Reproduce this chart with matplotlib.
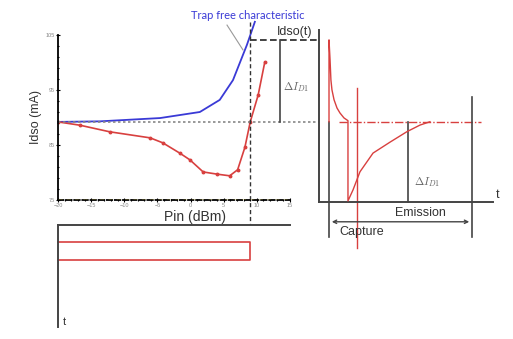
import matplotlib
matplotlib.use('Agg')
import matplotlib.pyplot as plt

plt.rcParams['font.family'] = ['Liberation Sans', 'DejaVu Sans']
plt.rcParams['mathtext.fontset'] = 'cm'

# static characteristic Idso vs Pin
pin_trap_free = [-20, -13.7, -4.6, 1.4, 4.4, 6.4, 8.5, 9.7]
idso_trap_free = [89.2, 89.3, 89.9, 91.0, 93.2, 96.8, 103.2, 107.4]

pin_measured = [-20, -16.7, -12.2, -6.1, -4.2, -1.6, -0.1, 1.9, 4.0, 5.9, 7.1, 8.2, 9.0, 10.2, 11.2]
idso_measured = [89.2, 88.6, 87.4, 86.3, 85.4, 83.5, 82.3, 80.1, 79.7, 79.4, 80.5, 84.6, 89.2, 94.1, 100.1]

x_ticks = [-20, -15, -10, -5, 0, 5, 10, 15]
y_ticks = [75, 85, 95, 105]

idso_rest = 89.2
idso_peak = 104.1
pin_pulse = 9

# transient Idso(t)
t_transient = [0, 0, 0.06, 0.11, 0.17, 0.29, 0.46, 0.63, 0.86, 1.09,
               1.09, 1.38, 1.78, 2.53, 3.51, 4.48, 5.23, 5.80]
idso_transient = [89.2, 104.1, 100.5, 96.8, 95.0, 93.2, 91.7, 90.8, 89.9, 89.4,
                  74.8, 76.8, 80.1, 83.5, 85.5, 87.4, 88.6, 89.2]

t_rest_line = [0.6, 8.74]
t_capture_end = 1.61
t_emission_mark = 4.54
t_emission_end = 8.22

# Pin(t) pulse
t_pulse_on = 1.67
t_pulse_off = 3.43

red = '#d8403f'
blue = '#3a3ad6'
dark = '#444444'

W, H = 513, 339
fig = plt.figure(figsize=(W / 100, H / 100), dpi=100)


def box(left, top, right, bottom):
    return [left / W, 1 - bottom / H, (right - left) / W, (bottom - top) / H]


# main plot
ax = fig.add_axes(box(58, 35, 290, 200))
ax.plot(pin_trap_free, idso_trap_free, color=blue, lw=1.3, clip_on=False)
ax.plot(pin_measured, idso_measured, color=red, lw=1.2, marker='o', ms=1.8)
ax.set_xlim(-20, 15)
ax.set_ylim(75, 105)
ax.set_xticks(x_ticks)
ax.set_yticks(y_ticks)
ax.minorticks_on()
ax.tick_params(which='both', direction='inout', length=3, width=0.8, labelsize=4,
               labelcolor='#888888', pad=1)
ax.tick_params(which='minor', length=2)
for s in ['top', 'right']:
    ax.spines[s].set_visible(False)
ax.spines['left'].set_linewidth(1.3)
ax.spines['bottom'].set_linewidth(1.3)
ax.spines['bottom'].set_linestyle((0, (3, 1.5)))
ax.axhline(75, color='#e6d84a', lw=1.0, ls=(0, (3, 3)), zorder=3)
ax.set_xlabel('Pin (dBm)', fontsize=10, color='#333333', labelpad=1)
ax.xaxis.set_label_coords(0.59, -0.06)
ax.set_ylabel('Idso (mA)', fontsize=9, color='#333333', labelpad=2)

# rest level, peak level, pulse power
ax.plot([-20, 20.9], [idso_rest, idso_rest], color='#888888', lw=1.2, ls=(0, (1.5, 1.5)), clip_on=False)
ax.plot([pin_pulse, 31.1], [idso_peak, idso_peak], color='#222222', lw=1.2, ls=(0, (4, 2)), clip_on=False)
ax.plot([pin_pulse, pin_pulse], [107.4, 63.2], color='#333333', lw=1.0, ls=(0, (3, 2)), clip_on=False)
ax.plot([13.5, 13.5], [idso_rest, idso_peak], color=dark, lw=1.2, clip_on=False)
ax.text(13.9, 95.5, r'$\Delta I_{D1}$', fontsize=8, color='#666666', va='center', clip_on=False)

ax.text(8.6, 108.6, 'Trap free characteristic', fontsize=8, color=blue, ha='center',
        va='center', family=['Lato', 'DejaVu Sans'], clip_on=False)
ax.plot([5.5, 7.9], [106.8, 102.3], color='#999999', lw=0.8, clip_on=False)

# transient Idso(t)
at = fig.add_axes(box(319, 30, 493, 202))
at.set_xlim(-0.575, 9.425)
at.set_ylim(74.6, 105.9)
at.plot(t_rest_line, [idso_rest, idso_rest], color=red, lw=1.0, ls=(0, (6, 1.5, 1, 1.5)))
at.plot(t_transient, idso_transient, color=red, lw=1.0, clip_on=False, zorder=4)
at.plot([0, 0], [idso_rest, 68.3], color=dark, lw=1.2, clip_on=False)
at.plot([t_capture_end, t_capture_end], [95.4, 66.3], color=red, lw=1.0, clip_on=False)
at.plot([t_emission_mark, t_emission_mark], [idso_rest, 74.6], color=dark, lw=1.2, clip_on=False)
at.plot([t_emission_end, t_emission_end], [93.7, 68.3], color=dark, lw=1.2, clip_on=False)
at.annotate('', xy=(t_emission_end, 71.0), xytext=(0, 71.0),
            arrowprops=dict(arrowstyle='<->', color=dark, lw=1.0, mutation_scale=6),
            annotation_clip=False)
at.text(5.23, 72.6, 'Emission', fontsize=9, color='#333333', ha='center', va='center', clip_on=False)
at.text(1.9, 69.2, 'Capture', fontsize=9, color='#333333', ha='center', va='center', clip_on=False)
at.text(4.9, 78.3, r'$\Delta I_{D1}$', fontsize=8, color='#666666', va='center')
at.text(9.66, 75.9, 't', fontsize=9, color='#333333', ha='center', va='center', clip_on=False)
at.text(-2.0, 105.5, 'Idso(t)', fontsize=9, color='#333333', ha='center', va='center', clip_on=False)
at.set_xticks([])
at.set_yticks([])
for s in ['top', 'right']:
    at.spines[s].set_visible(False)
for s in ['left', 'bottom']:
    at.spines[s].set_linewidth(1.4)
    at.spines[s].set_color(dark)

# Pin(t)
ap = fig.add_axes(box(58, 225, 290, 327))
ap.set_xlim(-20, 15)
ap.set_ylim(10, 0)
ap.plot([-20, pin_pulse, pin_pulse, -20], [t_pulse_on, t_pulse_on, t_pulse_off, t_pulse_off],
        color=red, lw=1.2, clip_on=False)
ap.text(0.02, 0.02, 't', transform=ap.transAxes, fontsize=8, color='#333333')
ap.set_xticks([])
ap.set_yticks([])
for s in ['bottom', 'right']:
    ap.spines[s].set_visible(False)
for s in ['left', 'top']:
    ap.spines[s].set_linewidth(1.4)
    ap.spines[s].set_color(dark)

fig.savefig('out.png', dpi=100)
